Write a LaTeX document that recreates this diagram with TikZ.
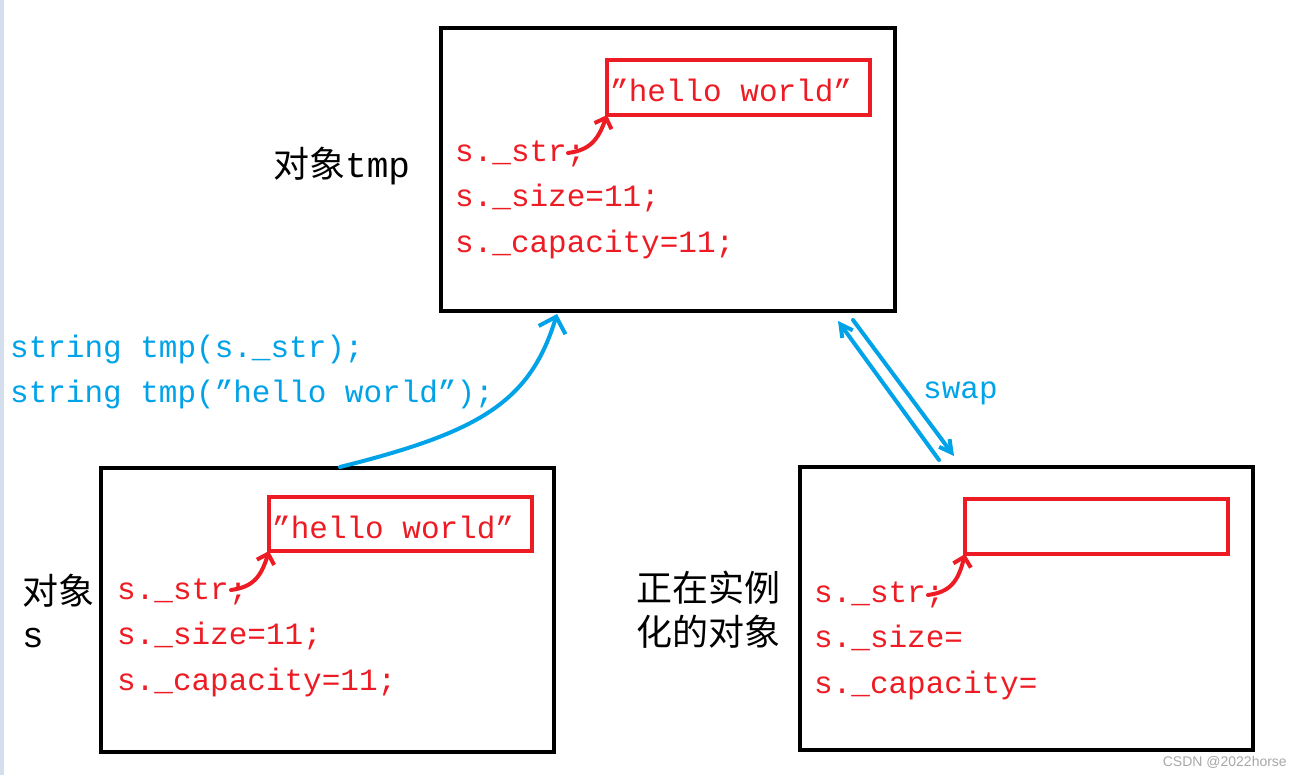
\documentclass[tikz,border=0pt]{standalone}
\usepackage{fontspec}
\setmainfont{Liberation Serif}
\newfontfamily\codefont{Liberation Mono}
\newfontfamily\cjk{Noto Sans CJK SC}
\newfontfamily\wmfont{Liberation Sans}
\usetikzlibrary{arrows.meta}
\definecolor{pred}{HTML}{ED1C24}
\definecolor{pblue}{HTML}{00A2E8}
\definecolor{edgestrip}{HTML}{D5DEEC}
\definecolor{wmgray}{HTML}{A8A8A8}
\tikzset{
  objbox/.style={draw=black, line width=4.5pt, inner sep=0pt, outer sep=0pt, anchor=north west},
  strbox/.style={draw=pred, line width=4pt, inner sep=0pt, outer sep=0pt, anchor=north west},
  codetxt/.style={text=pred, font=\codefont\fontsize{31}{36}\selectfont, anchor=base west, inner sep=0pt},
  bluetxt/.style={text=pblue, font=\codefont\fontsize{31}{36}\selectfont, anchor=base west, inner sep=0pt},
  lbl/.style={font=\cjk\fontsize{36}{40}\selectfont, anchor=base west, inner sep=0pt},
  ptr/.style={draw=pred, line width=4pt, line cap=round, -{Straight Barb[length=9pt,width=18pt]}},
  flow/.style={draw=pblue, line width=4pt, line cap=round, -{Straight Barb[length=14pt,width=28pt]}},
  swaparrow/.style={draw=pblue, line width=4pt, line cap=round, -{Straight Barb[length=12pt,width=13pt]}},
}
\begin{document}
\begin{tikzpicture}[x=1pt,y=-1pt]
\useasboundingbox (0,0) rectangle (1302,775);
\fill[white] (0,0) rectangle (1302,775);
\fill[edgestrip] (0,0) rectangle (4,775);

% boxes
\node[objbox, minimum width=454pt, minimum height=283pt] (tmpbox) at (441,28) {};
\node[objbox, minimum width=453pt, minimum height=284pt] (sbox) at (101,468) {};
\node[objbox, minimum width=453pt, minimum height=283pt] (newbox) at (800,467) {};

\node[strbox, minimum width=263pt, minimum height=55pt] (hwtmp) at (607,60) {};
\node[strbox, minimum width=263pt, minimum height=54pt] (hws) at (269,497) {};
\node[strbox, minimum width=263pt, minimum height=55pt] (hwnew) at (965,499) {};

% strings
\node[codetxt] (hwtmptxt) at (610,102) {”hello world”};
\node[codetxt] (hwstxt) at (272,539) {”hello world”};

% member lines: tmp
\node[codetxt] (tstr) at (455,162) {s.\_str;};
\node[codetxt] (tsize) at (455,207) {s.\_size=11;};
\node[codetxt] (tcap) at (455,253) {s.\_capacity=11;};
% member lines: s
\node[codetxt] (sstr) at (117,599) {s.\_str;};
\node[codetxt] (ssize) at (117,644) {s.\_size=11;};
\node[codetxt] (scap) at (117,690) {s.\_capacity=11;};
% member lines: new
\node[codetxt] (nstr) at (814,602) {s.\_str;};
\node[codetxt] (nsize) at (814,647) {s.\_size=};
\node[codetxt] (ncap) at (814,693) {s.\_capacity=};

% labels
\node[lbl] (ltmp) at (273,178) {对象{\codefont tmp}};
\node[lbl] (ls1) at (22,604) {对象};
\node[lbl] (ls2) at (22,647) {{\codefont s}};
\node[lbl] (ln1) at (636,601) {正在实例};
\node[lbl] (ln2) at (636,645) {化的对象};

% blue code text
\node[bluetxt] (c1) at (10,358) {string tmp(s.\_str);};
\node[bluetxt] (c2) at (10,403) {string tmp(”hello world”);};
\node[bluetxt] (swaplbl) at (923,399) {swap};

% pointer arrows
\coordinate (ptmp) at (568,153);
\coordinate (ps) at (231,590);
\coordinate (pn) at (928,595);
\draw[ptr] (ptmp) .. controls (590,150) and (598,140) .. (hwtmp.south west);
\draw[ptr] (ps) .. controls (253,587) and (261,577) .. (hws.south west);
\draw[ptr] (pn) .. controls (950,592) and (958,582) .. (hwnew.south west);

% copy-construct arrow
\coordinate (sTop) at (340,467);
\coordinate (tmpBottom) at (557,314);
\draw[flow] (sTop) .. controls (480,432) and (530,402) .. (tmpBottom);

% swap arrows
\coordinate (sw1a) at (939,460);
\coordinate (sw1b) at (838,321);
\coordinate (sw2a) at (853,320);
\coordinate (sw2b) at (954,456);
\draw[swaparrow] (sw1a) -- (sw1b);
\draw[swaparrow] (sw2a) -- (sw2b);

% watermark
\node[text=wmgray, font=\wmfont\fontsize{14}{16}\selectfont, anchor=base east, inner sep=0pt] (wm) at (1287,766) {CSDN @2022horse};
\end{tikzpicture}
\end{document}
